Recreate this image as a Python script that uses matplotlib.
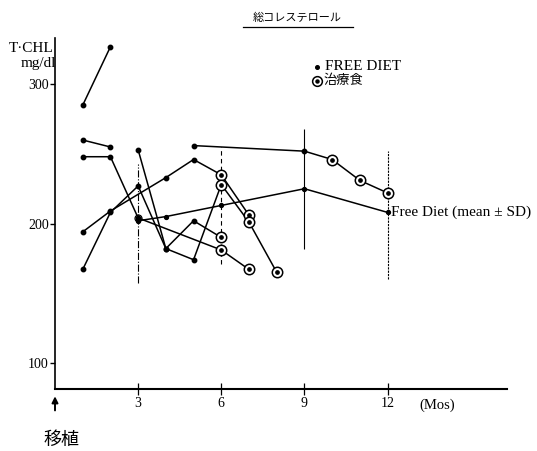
import matplotlib.pyplot as plt
from matplotlib.lines import Line2D

plt.rcParams['font.family'] = ['Liberation Serif', 'Noto Sans CJK JP']

# each patient: months, T-CHL values, number of points on free diet
# (the remaining points are on the therapeutic diet)
p1_x = [1, 2]
p1_y = [285, 327]
p1_free = 2

p2_x = [1, 2]
p2_y = [260, 255]
p2_free = 2

p3_x = [1, 2, 3, 6, 7]
p3_y = [248, 248, 204, 181, 167]
p3_free = 3

p4_x = [1, 2, 4, 5, 6, 7]
p4_y = [194, 209, 233, 246, 235, 206]
p4_free = 4

p5_x = [1, 2, 3, 4, 5, 6]
p5_y = [167, 208, 227, 182, 202, 190]
p5_free = 5

p6_x = [3, 4, 5, 6, 7, 8]
p6_y = [253, 182, 174, 228, 201, 165]
p6_free = 3

p7_x = [5, 9, 10, 11, 12]
p7_y = [256, 252, 246, 231, 222]
p7_free = 2

patients = [(p1_x, p1_y, p1_free), (p2_x, p2_y, p2_free), (p3_x, p3_y, p3_free),
            (p4_x, p4_y, p4_free), (p5_x, p5_y, p5_free), (p6_x, p6_y, p6_free),
            (p7_x, p7_y, p7_free)]

# free diet group mean and SD
mean_x = [3, 4, 6, 9, 12]
mean_y = [202, 205, 213, 225, 208]
sd_x = [3, 6, 9, 12]
sd_mean = [200, 213, 225, 206]
sd_val = [43, 42, 43, 46]
sd_styles = ['dashdot', (0, (4, 3)), 'solid', (0, (2, 1))]

x_ticks = [3, 6, 9, 12]
y_ticks = [100, 200, 300]

fig = plt.figure(figsize=(5.37, 4.51), dpi=100)
ax = fig.add_axes([55 / 537, 1 - 389.3 / 451, 451.7 / 537, 351.3 / 451])
ax.set_xlim(0, 16.3)
ax.set_ylim(80.9, 333.3)

for s in ['top', 'right']:
    ax.spines[s].set_visible(False)
ax.spines['left'].set_linewidth(1.2)
ax.spines['bottom'].set_linewidth(1.5)

ax.set_xticks(x_ticks)
ax.set_yticks(y_ticks)
ax.tick_params(axis='x', direction='inout', length=9, width=0.9, pad=1, labelsize=10)
ax.tick_params(axis='y', direction='out', length=3.5, width=1, pad=1, labelsize=10)

# SD bars
for x, m, sd, ls in zip(sd_x, sd_mean, sd_val, sd_styles):
    ax.vlines(x, m - sd, m + sd, colors='k', linestyles=[ls], lw=0.8)

# individual courses
for xs, ys, n in patients:
    ax.plot(xs, ys, '-', color='k', lw=1.1, zorder=3)
    ax.plot(xs[:n], ys[:n], 'o', color='k', ms=3.2, zorder=4)
    if n < len(xs):
        ax.plot(xs[n:], ys[n:], 'o', ms=7.5, mfc='white', mec='k', mew=1.1, zorder=5)
        ax.plot(xs[n:], ys[n:], 'o', color='k', ms=2.4, zorder=6)

# mean line
ax.plot(mean_x, mean_y, '-', color='k', lw=1.1, marker='o', ms=2.8, zorder=3)
ax.plot([mean_x[0]], [mean_y[0] + 2], 'o', ms=5, mfc='none', mec='k', mew=0.9, zorder=3)
ax.text(mean_x[-1] + 0.12, mean_y[-1], 'Free Diet (mean \u00b1 SD)', ha='left', va='center',
        fontsize=11)

ax.text(13.8, -0.027, '(Mos)', transform=ax.get_xaxis_transform(), ha='center', va='top',
        fontsize=10.5)

# legend
ax.plot([0.5807], [0.9183], 'o', color='k', ms=2.6, transform=ax.transAxes, clip_on=False)
ax.text(0.5975, 0.9183, 'FREE DIET', transform=ax.transAxes, ha='left', va='center',
        fontsize=11)
ax.plot([0.5807], [0.8785], 'o', ms=7, mfc='white', mec='k', mew=1.1,
        transform=ax.transAxes, clip_on=False)
ax.plot([0.5807], [0.8785], 'o', color='k', ms=2.2, transform=ax.transAxes, clip_on=False)
ax.text(0.5935, 0.8785, '治療食', transform=ax.transAxes, ha='left', va='center',
        fontsize=9.5, family=['Noto Sans CJK JP'])

# axis label
fig.text(53 / 537, 1 - 48 / 451, 'T·CHL', ha='right', va='center', fontsize=11)
fig.text(56 / 537, 1 - 63 / 451, 'mg/dl', ha='right', va='center', fontsize=11)

# title with underline
fig.text(297.5 / 537, 1 - 18 / 451, '総コレステロール', ha='center', va='center',
         fontsize=8, family=['Noto Sans CJK JP'])
fig.add_artist(Line2D([243 / 537, 353 / 537], [1 - 27 / 451, 1 - 27 / 451], color='k', lw=0.9))

# transplantation marker
ax.annotate('', xy=(0, -0.012), xytext=(0, -0.068), xycoords='axes fraction',
            arrowprops=dict(arrowstyle='-|>', color='k', lw=1.4, mutation_scale=9))
fig.text(62 / 537, 1 - 440 / 451, '移植', ha='center', va='center', fontsize=13,
         family=['Noto Sans CJK JP'])

fig.savefig('out.png', dpi=100)
